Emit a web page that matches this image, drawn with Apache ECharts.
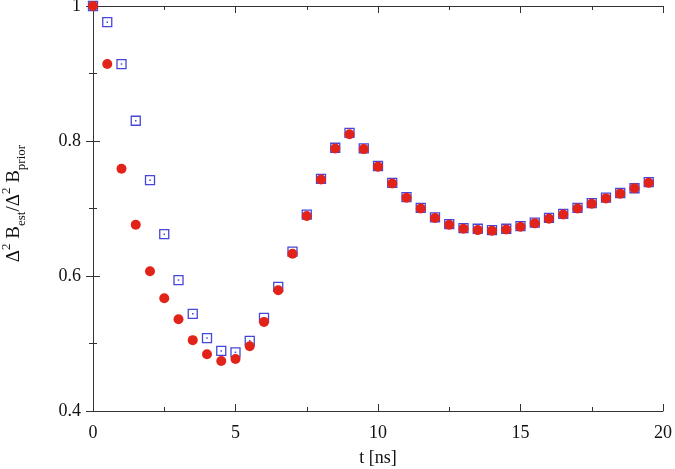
<!DOCTYPE html>
<html>
<head>
<meta charset="utf-8">
<script src="https://cdn.jsdelivr.net/npm/echarts@6/dist/echarts.min.js"></script>
<style>html,body{margin:0;padding:0;background:#fff}#c{width:675px;height:469px}</style>
</head>
<body>
<div id="c"></div>
<script>
var tValues = [0,0.5,1,1.5,2,2.5,3,3.5,4,4.5,5,5.5,6,6.5,7,7.5,8,8.5,9,9.5,10,10.5,11,11.5,12,12.5,13,13.5,14,14.5,15,15.5,16,16.5,17,17.5,18,18.5,19,19.5];
var squareValues = [1.0,0.976,0.914,0.830,0.742,0.662,0.594,0.544,0.508,0.489,0.487,0.504,0.538,0.584,0.636,0.691,0.744,0.790,0.812,0.789,0.763,0.738,0.717,0.701,0.687,0.677,0.671,0.670,0.668,0.670,0.674,0.679,0.686,0.692,0.701,0.708,0.716,0.723,0.730,0.739];
var circleValues = [1.0,0.914,0.759,0.676,0.607,0.567,0.536,0.505,0.484,0.474,0.477,0.496,0.532,0.579,0.633,0.689,0.743,0.789,0.810,0.788,0.762,0.737,0.716,0.700,0.686,0.676,0.670,0.668,0.667,0.669,0.673,0.678,0.685,0.691,0.700,0.707,0.715,0.722,0.730,0.738];
var xTicks = [0,5,10,15,20];
var yTicks = [0.4,0.6,0.8,1];

function pairs(xs, ys){ return xs.map(function(x,i){return [x, ys[i]];}); }
var serif = 'Liberation Serif';
var axisColor = '#333';
var chart = echarts.init(document.getElementById('c'), null, {renderer:'canvas'});
var commonX = {
  type:'value', min:0, max:20, interval:5,
  axisLine:{show:true, lineStyle:{color:axisColor, width:1}},
  axisTick:{show:true, inside:true, length:7, lineStyle:{color:axisColor}},
  minorTick:{show:true, splitNumber:2, length:4, lineStyle:{color:axisColor}},
  splitLine:{show:false}
};
var commonY = {
  type:'value', min:0.4, max:1, interval:0.2,
  axisLine:{show:true, lineStyle:{color:axisColor, width:1}},
  axisTick:{show:true, inside:true, length:7, lineStyle:{color:axisColor}},
  minorTick:{show:true, splitNumber:2, length:4, lineStyle:{color:axisColor}},
  splitLine:{show:false}
};
var option = {
  backgroundColor:'#fff',
  animation:false,
  grid:{left:93, right:12, top:6, bottom:58, containLabel:false, outerBoundsMode:'none'},
  xAxis:[
    Object.assign({}, commonX, {
      position:'bottom',
      axisLabel:{show:true, margin:13, fontFamily:serif, fontSize:18, color:'#111',
        formatter:function(v){ return xTicks.indexOf(v)>=0 ? String(v) : ''; }},
      name:'t [ns]', nameLocation:'middle', nameGap:38,
      nameTextStyle:{fontFamily:serif, fontSize:18, color:'#111'}
    }),
    Object.assign({}, commonX, {position:'top', axisLabel:{show:false}})
  ],
  yAxis:[
    Object.assign({}, commonY, {
      position:'left',
      axisLabel:{show:true, margin:12, fontFamily:serif, fontSize:18, color:'#111',
        formatter:function(v){ var r=Math.round(v*10)/10; return r===1?'1':r.toFixed(1); }},
      name:'{n|Δ}{sup|2}{n| B}{sub|est}{n|/Δ}{sup|2}{n| B}{sub|prior}',
      nameLocation:'middle', nameGap:65, nameRotate:90,
      nameTextStyle:{fontFamily:serif, color:'#111', padding:[0,0,0,10],
        rich:{
          n:{fontFamily:serif, fontSize:19, lineHeight:28, color:'#111'},
          sup:{fontFamily:serif, fontSize:13, lineHeight:15, verticalAlign:'top', color:'#111'},
          sub:{fontFamily:serif, fontSize:13, lineHeight:15, verticalAlign:'bottom', color:'#111'}
        }}
    }),
    Object.assign({}, commonY, {position:'right', axisLabel:{show:false}})
  ],
  series:[
    {type:'scatter', name:'squares', data:pairs(tValues, squareValues), symbol:'rect', symbolSize:9,
      itemStyle:{color:'rgba(0,0,0,0)', borderColor:'#4646d8', borderWidth:1.3, opacity:1}, z:2},
    {type:'scatter', name:'squareDots', data:pairs(tValues, squareValues), symbol:'rect', symbolSize:1.5,
      itemStyle:{color:'#4646d8', opacity:1}, z:2},
    {type:'scatter', name:'circles', data:pairs(tValues, circleValues), symbol:'circle', symbolSize:10,
      itemStyle:{color:'#e2231a', opacity:1}, z:3}
  ]
};
chart.setOption(option);
</script>
</body>
</html>
